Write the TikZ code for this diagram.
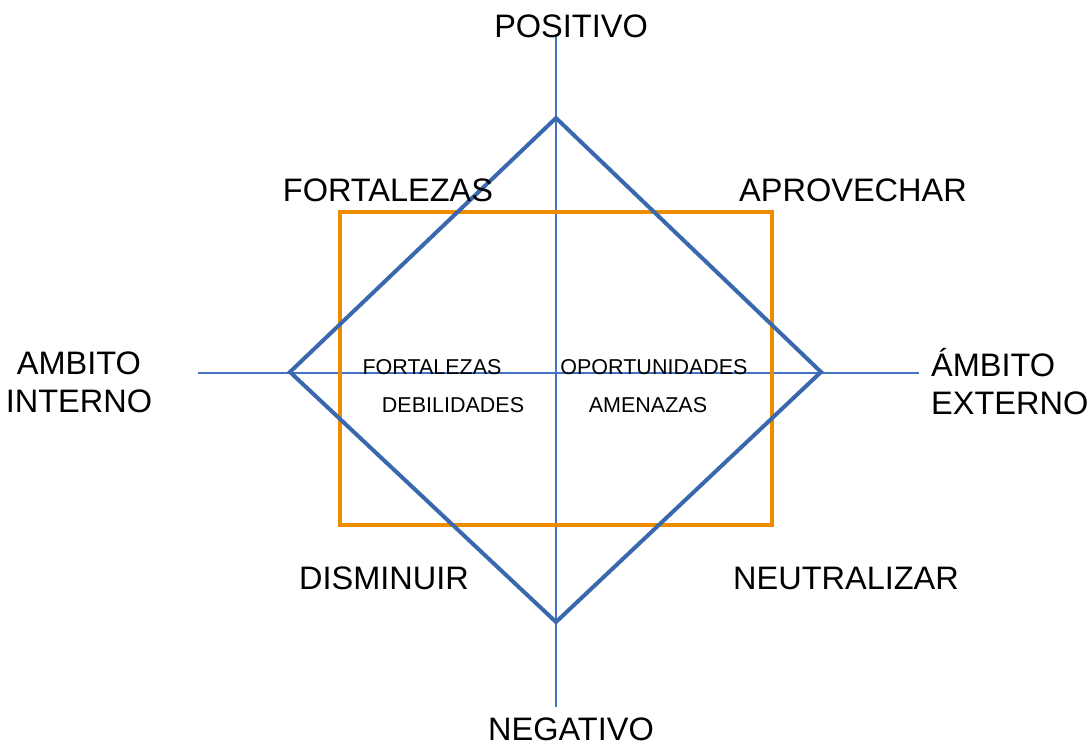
\documentclass[tikz,border=0pt]{standalone}
\usepackage{fontspec}
\setmainfont{Liberation Sans}
\usetikzlibrary{positioning, calc}

\definecolor{axisblue}{HTML}{4472C4}
\definecolor{diamondblue}{HTML}{3A68AF}
\definecolor{boxorange}{HTML}{EE8C00}

\tikzset{
	axis/.style={axisblue, line width=1.6pt},
	rhombus/.style={diamondblue, line width=4pt, line join=miter},
	frame/.style={boxorange, line width=4pt},
	biglabel/.style={font=\fontsize{32.5}{38}\selectfont, inner sep=0pt, align=center},
	smalllabel/.style={font=\fontsize{21.5}{24}\selectfont, inner sep=0pt}
}

\begin{document}
\begin{tikzpicture}[x=1pt, y=-1pt]
		\useasboundingbox (0, 0) rectangle (1089, 745);
		
		\coordinate (up) at (556, 34);
		\coordinate (down) at (556, 707);
		\coordinate (west) at (198, 373);
		\coordinate (east) at (919, 373);
		\draw[axis] (up) -- (down);
		\draw[axis] (west) -- (east);
		
		\draw[frame] (340, 212) rectangle (772, 525);
		
		\coordinate (D-n) at (556, 118);
		\coordinate (D-e) at (821, 372);
		\coordinate (D-s) at (556, 622);
		\coordinate (D-w) at (290, 372);
		\draw[rhombus] (D-n) -- (D-e) -- (D-s) -- (D-w) -- cycle;
		
		\node[biglabel] (pos) at (571, 26) {POSITIVO};
		\node[biglabel] (neg) at (571, 729) {NEGATIVO};
		\node[biglabel] (intern) at (79, 382) {AMBITO\\INTERNO};
		\node[biglabel, align=left, anchor=west] (extern) at (931, 382) {ÁMBITO\\EXTERNO};
		
		\node[biglabel] (fort) at (388, 190) {FORTALEZAS};
		\node[biglabel] (aprov) at (853, 190) {APROVECHAR};
		\node[biglabel] (dism) at (384, 578) {DISMINUIR};
		\node[biglabel] (neutr) at (846, 578) {NEUTRALIZAR};
		
		\node[smalllabel] (f) at (432, 367) {FORTALEZAS};
		\node[smalllabel] (o) at (654, 367) {OPORTUNIDADES};
		\node[smalllabel] (d) at (453, 405) {DEBILIDADES};
		\node[smalllabel] (a) at (648, 405) {AMENAZAS};
	\end{tikzpicture}
\end{document}
